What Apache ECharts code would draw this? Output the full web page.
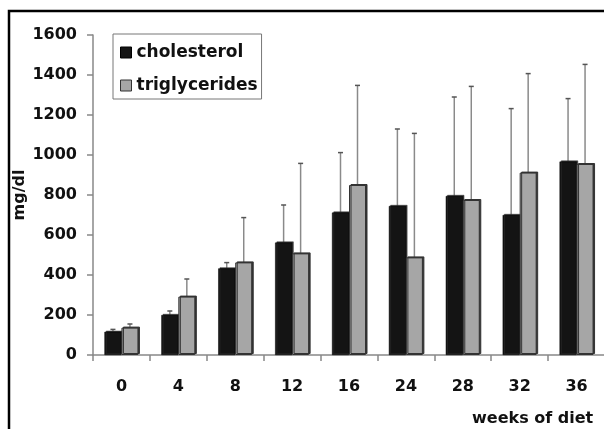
<!DOCTYPE html>
<html><head><meta charset="utf-8">
<script src="https://cdn.jsdelivr.net/npm/echarts@6/dist/echarts.min.js"></script>
<style>html,body{margin:0;padding:0;background:#fff}#c{width:604px;height:429px}</style>
</head><body><div id="c"></div>
<script>
var categories = ['0','4','8','12','16','24','28','32','36'];
var cholesterol = [116, 200, 433, 562, 712, 745, 795, 700, 967];
var cholesterolErrTop = [128, 220, 462, 750, 1012, 1130, 1290, 1232, 1282];
var triglycerides = [137, 292, 463, 508, 850, 488, 775, 912, 955];
var triglyceridesErrTop = [155, 380, 687, 958, 1348, 1108, 1343, 1407, 1453];
var yTicks = {min: 0, max: 1600, interval: 200};
var xTitle = 'weeks of diet';
var yTitle = 'mg/dl';

var BW = 17;
var FONT = 'DejaVu Sans';
var errData = [];
categories.forEach(function(c, i){
  errData.push([i, cholesterol[i], cholesterolErrTop[i], -1]);
  errData.push([i, triglycerides[i], triglyceridesErrTop[i], 1]);
});

var chart = echarts.init(document.getElementById('c'), null, {renderer:'canvas'});
chart.setOption({
  animation: false,
  backgroundColor: '#fff',
  grid: {left: 93, top: 35, width: 512, height: 320, containLabel: false, outerBoundsMode: 'none'},
  legend: {
    left: 113, top: 34, orient: 'vertical',
    padding: [10, 4, 5, 7], itemGap: 16,
    itemWidth: 11, itemHeight: 11,
    borderColor: '#777', borderWidth: 1,
    textStyle: {fontFamily: FONT, fontWeight: 'bold', fontSize: 17, color: '#111'},
    data: [
      {name: 'cholesterol', icon: 'rect', itemStyle: {color: '#141414', borderColor: '#000', borderWidth: 1, shadowBlur: 0, shadowColor: 'transparent'}},
      {name: 'triglycerides', icon: 'rect', itemStyle: {color: '#a6a6a6', borderColor: '#333', borderWidth: 1, shadowBlur: 0, shadowColor: 'transparent'}}
    ]
  },
  xAxis: {
    type: 'category', data: categories,
    boundaryGap: true,
    axisLine: {lineStyle: {color: '#888', width: 1.5}},
    axisTick: {show: true, length: 6, alignWithLabel: false, lineStyle: {color: '#888', width: 1.5}},
    axisLabel: {margin: 24, fontFamily: FONT, fontWeight: 'bold', fontSize: 16, color: '#111'}
  },
  yAxis: {
    type: 'value', min: yTicks.min, max: yTicks.max, interval: yTicks.interval,
    splitLine: {show: false},
    axisLine: {show: true, lineStyle: {color: '#888', width: 1.5}},
    axisTick: {show: true, length: 6, lineStyle: {color: '#888', width: 1.5}},
    axisLabel: {margin: 16, fontFamily: FONT, fontWeight: 'bold', fontSize: 16, color: '#111',
      formatter: function(v){ return String(v); }}
  },
  series: [
    {name: 'cholesterol', type: 'bar', data: cholesterol, barWidth: BW, barGap: '0%',
     itemStyle: {color: '#141414', borderColor: '#000', borderWidth: 0.5, shadowColor: '#333', shadowOffsetX: 1.5, shadowOffsetY: -1, shadowBlur: 0}},
    {name: 'triglycerides', type: 'bar', data: triglycerides, barWidth: BW, barGap: '0%',
     itemStyle: {color: '#a6a6a6', borderColor: '#333', borderWidth: 1, shadowColor: '#333', shadowOffsetX: 1.5, shadowOffsetY: -1, shadowBlur: 0}},
    {type: 'custom', data: errData, z: 1,
     renderItem: function(params, api){
       var i = api.value(0), lo = api.value(1), hi = api.value(2), side = api.value(3);
       var p0 = api.coord([i, lo]), p1 = api.coord([i, hi]);
       var x = p0[0] + side * BW / 2;
       return {type: 'group', children: [
         {type: 'line', shape: {x1: x, y1: p0[1], x2: x, y2: p1[1]}, style: {stroke: '#8a8a8a', lineWidth: 1.5}},
         {type: 'line', shape: {x1: x - 2.5, y1: p1[1], x2: x + 2.5, y2: p1[1]}, style: {stroke: '#555', lineWidth: 1.5}}
       ]};
     }}
  ],
  graphic: [
    {type: 'text', x: 20, y: 195, rotation: Math.PI / 2,
     style: {text: yTitle, fontFamily: FONT, fontWeight: 'bold', fontSize: 16, fill: '#111', align: 'center', verticalAlign: 'middle'}},
    {type: 'text', left: 472, top: 411, style: {text: xTitle, fontFamily: FONT, fontWeight: 'bold', fontSize: 16, fill: '#111'}},
    {type: 'rect', shape: {x: 9, y: 11, width: 620, height: 440}, style: {fill: 'none', stroke: '#000', lineWidth: 2.5}, silent: true, z: 100}
  ]
});
</script>
</body></html>
